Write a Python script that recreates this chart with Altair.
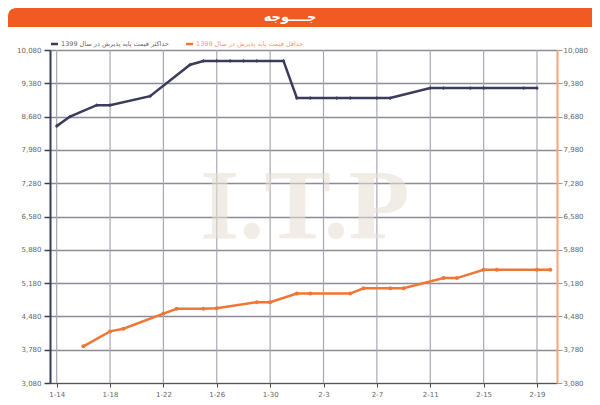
import altair as alt
import pandas as pd

# ---------------- data ----------------
dark_days = ["1-14", "1-15", "1-17", "1-18", "1-21", "1-24", "1-25", "1-26", "1-27", "1-28",
             "1-29", "1-31", "2-1", "2-2", "2-4", "2-5", "2-7", "2-8", "2-11", "2-12",
             "2-14", "2-15", "2-18", "2-19"]
dark_vals = [8480, 8680, 8920, 8920, 9110, 9770, 9850, 9850, 9850, 9850,
             9850, 9850, 9070, 9070, 9070, 9070, 9070, 9070, 9280, 9280,
             9280, 9280, 9280, 9280]

orange_days = ["1-16", "1-18", "1-19", "1-22", "1-23", "1-25", "1-26", "1-29", "1-30", "2-1",
               "2-2", "2-5", "2-6", "2-8", "2-9", "2-12", "2-13", "2-15", "2-16", "2-19", "2-20"]
orange_vals = [3850, 4165, 4220, 4540, 4640, 4640, 4650, 4780, 4780, 4960,
               4960, 4960, 5070, 5070, 5070, 5285, 5285, 5460, 5460, 5460, 5460]

tick_labels = ["1-14", "1-18", "1-22", "1-26", "1-30", "2-3", "2-7", "2-11", "2-15", "2-19"]
y_ticks = [3080, 3780, 4480, 5180, 5880, 6580, 7280, 7980, 8680, 9380, 10080]

title_text = "جــــوجه"
legend_dark = "حداکثر قیمت پایه پذیرش در سال 1399"
legend_orange = "حداقل قیمت پایه پذیرش در سال 1399"
watermark = "I.T.P"


def day_index(s):
    m, d = s.split("-")
    m, d = int(m), int(d)
    return d - 14 if m == 1 else 17 + d


df_dark = pd.DataFrame({"idx": [day_index(d) for d in dark_days], "val": dark_vals})
df_orange = pd.DataFrame({"idx": [day_index(d) for d in orange_days], "val": orange_vals})
grid_df = pd.DataFrame({"idx": [day_index(t) for t in tick_labels]})

n_days = 38
lab_arr = [""] * n_days
for t in tick_labels:
    lab_arr[day_index(t)] = t
label_expr = "[" + ",".join("'" + s + "'" for s in lab_arr) + "][datum.value]"

DARK = "#3a3c5c"
ORANGE = "#F07636"

xscale = alt.Scale(domain=[-0.5, 37.5], nice=False, zero=False)
yscale = alt.Scale(domain=[3080, 10080], nice=False, zero=False)

x_enc = alt.X("idx:Q", scale=xscale, title=None,
              axis=alt.Axis(values=list(range(n_days)), labelExpr=label_expr, grid=False,
                            tickSize=4, tickColor="#444", domainColor="#555", domainWidth=1,
                            labelFontSize=7, labelColor="#666", labelPadding=3,
                            labelFont="DejaVu Sans", labelOverlap=False))

y_left = alt.Y("val:Q", scale=yscale, title=None,
               axis=alt.Axis(values=y_ticks, format=",.0f", grid=True, gridColor="#8c8c98",
                             gridWidth=1.6, domainColor=DARK, domainWidth=2, tickColor=DARK,
                             tickSize=6, tickWidth=1.5, labelFontSize=7, labelColor="#666",
                             labelFont="DejaVu Sans", labelPadding=3))

y_right = alt.Y("val:Q", scale=yscale, title=None,
                axis=alt.Axis(orient="right", values=y_ticks, format=",.0f", grid=False,
                              domainColor="#F6A57A", domainWidth=2, tickColor="#999",
                              tickSize=5, labelFontSize=7, labelColor="#666",
                              labelFont="DejaVu Sans", labelPadding=1))

one = pd.DataFrame({"a": [0]})

header = alt.Chart(one).mark_rect(color="#F15A22", cornerRadiusTopLeft=8).encode(
    x=alt.value(-42), x2=alt.value(542), y=alt.value(-42), y2=alt.value(-23))
title = alt.Chart(one).mark_text(text=title_text, color="white", fontSize=13, fontWeight="bold",
                                 font="DejaVu Sans", align="center", baseline="middle").encode(
    x=alt.value(240), y=alt.value(-33))

wm = alt.Chart(one).mark_text(text=watermark, color="#e6dfd3", fontSize=100, fontWeight="bold",
                              font="Liberation Serif", align="center", baseline="middle",
                              opacity=0.55).encode(x=alt.value(255), y=alt.value(158))

vgrid = alt.Chart(grid_df).mark_rule(color="#a8a8b4", strokeWidth=1.2).encode(
    x=alt.X("idx:Q", scale=xscale))

leg_sym1 = alt.Chart(one).mark_rule(color=DARK, strokeWidth=2.5).encode(
    x=alt.value(1), x2=alt.value(8), y=alt.value(-6))
leg_txt1 = alt.Chart(one).mark_text(text=legend_dark, color="#666", fontSize=6.5, align="left",
                                    baseline="middle", font="DejaVu Sans").encode(
    x=alt.value(11), y=alt.value(-6))
leg_sym2 = alt.Chart(one).mark_rule(color=ORANGE, strokeWidth=2.5).encode(
    x=alt.value(136), x2=alt.value(143), y=alt.value(-6))
leg_txt2 = alt.Chart(one).mark_text(text=legend_orange, color="#F29A70", fontSize=6.5, align="left",
                                    baseline="middle", font="DejaVu Sans").encode(
    x=alt.value(146), y=alt.value(-6))

dark_line = alt.Chart(df_dark).mark_line(
    color=DARK, strokeWidth=2.5,
    point=alt.OverlayMarkDef(color=DARK, size=14, filled=True, shape="diamond")
).encode(x=x_enc, y=y_left)

orange_line = alt.Chart(df_orange).mark_line(
    color=ORANGE, strokeWidth=2.5,
    point=alt.OverlayMarkDef(color=ORANGE, size=16, filled=True)
).encode(x=alt.X("idx:Q", scale=xscale), y=y_right)

chart = alt.layer(
    vgrid, wm, dark_line, orange_line, header, title,
    leg_sym1, leg_txt1, leg_sym2, leg_txt2
).resolve_axis(y="independent").properties(
    width=507, height=333,
    padding={"left": 42, "top": 42, "right": 35, "bottom": 14},
    autosize=alt.AutoSizeParams(type="none"),
).configure(background="white").configure_view(stroke=None)

chart.save("out.html", embed_options={"renderer": "svg", "actions": False})
